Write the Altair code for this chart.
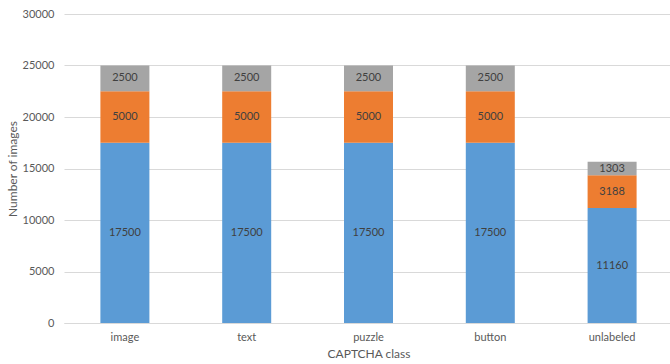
import altair as alt
import pandas as pd

categories = ["image", "text", "puzzle", "button", "unlabeled"]
series_names = ["s1", "s2", "s3"]
s1 = [17500, 17500, 17500, 17500, 11160]
s2 = [5000, 5000, 5000, 5000, 3188]
s3 = [2500, 2500, 2500, 2500, 1303]
colors = ["#5B9BD5", "#ED7D31", "#A5A5A5"]

rows = []
for i, c in enumerate(categories):
    for k, vals in enumerate([s1, s2, s3]):
        rows.append({"cat": c, "series": series_names[k], "order": k, "value": vals[i]})
df = pd.DataFrame(rows)

FONT = "Lato"

base = alt.Chart(df).transform_stack(
    stack="value", groupby=["cat"], sort=[alt.SortField("order", order="ascending")], as_=["y0", "y1"]
).transform_calculate(mid="(datum.y0 + datum.y1) / 2")

xscale = alt.Scale(paddingInner=0, paddingOuter=0, range=[0, 609])

xenc = alt.X("cat:N", sort=categories, title="CAPTCHA class", scale=xscale,
             axis=alt.Axis(labelAngle=0, ticks=False, domainColor="#D9D9D9", labelColor="#595959",
                           labelFontSize=11, titleFontSize=12, titleColor="#595959", titleFontWeight="normal",
                           labelPadding=8, titlePadding=6, labelFont=FONT, titleFont=FONT))

bars = base.mark_bar(size=49).encode(
    x=xenc,
    y=alt.Y("y0:Q", title="Number of images",
            scale=alt.Scale(domain=[0, 30000], nice=False),
            axis=alt.Axis(values=[0, 5000, 10000, 15000, 20000, 25000, 30000], format="d",
                          ticks=False, domain=False, gridColor="#D9D9D9", labelColor="#595959",
                          labelFontSize=11, titleFontSize=12, titleColor="#595959",
                          titleFontWeight="normal", labelPadding=10, titlePadding=3,
                          labelFont=FONT, titleFont=FONT)),
    y2="y1:Q",
    color=alt.Color("series:N", scale=alt.Scale(domain=series_names, range=colors), legend=None),
)

labels = base.mark_text(fontSize=11, color="#404040", font=FONT, baseline="middle").encode(
    x=alt.X("cat:N", sort=categories, scale=xscale),
    y=alt.Y("mid:Q"),
    text=alt.Text("value:Q", format="d"),
)

chart = alt.layer(bars, labels).properties(
    width=606, height=309,
    padding={"left": 64, "top": 14, "right": 0, "bottom": 41},
    autosize=alt.AutoSizeParams(type="none"),
).configure_view(stroke=None)

chart.save("out.html", embed_options={"renderer": "svg", "actions": False})
